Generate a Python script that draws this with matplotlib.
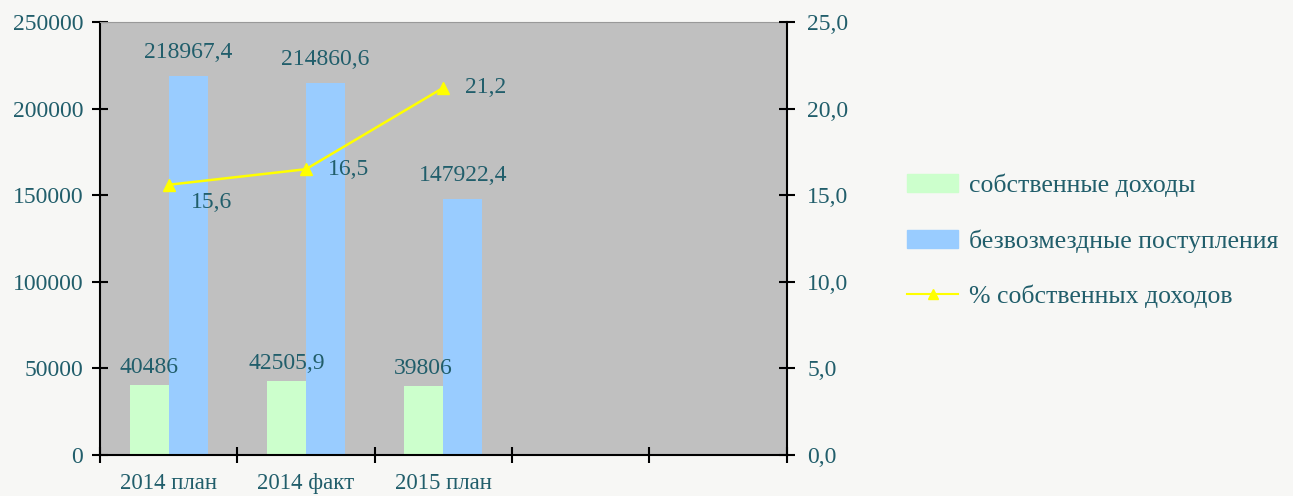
import numpy as np
import matplotlib.pyplot as plt
from matplotlib.lines import Line2D
from matplotlib.patches import Patch

# данные
categories = ['2014 план', '2014 факт', '2015 план', '', '']
own_income = [40486, 42505.9, 39806]
grants = [218967.4, 214860.6, 147922.4]
own_share = [15.6, 16.5, 21.2]

own_labels = ['40486', '42505,9', '39806']
grant_labels = ['218967,4', '214860,6', '147922,4']
share_labels = ['15,6', '16,5', '21,2']

txt = '#215E6B'
plt.rcParams['font.family'] = ['Liberation Serif', 'DejaVu Serif']

fig = plt.figure(figsize=(12.93, 4.96), dpi=100)
fig.patch.set_facecolor('#F7F7F5')
ax = fig.add_axes([0.0773, 0.0827, 0.531, 0.873])
ax.set_facecolor('#C0C0C0')

x = np.arange(len(own_income))
w = 0.284
ax.bar(x - w / 2, own_income, width=w, color='#CCFFCC', zorder=2)
ax.bar(x + w / 2, grants, width=w, color='#99CCFF', zorder=2)

for i in range(len(x)):
    ax.text(x[i] - w / 2, own_income[i] + 4000, own_labels[i], ha='center', va='bottom',
            fontsize=17, color=txt, zorder=5)
    ax.text(x[i] + w / 2, grants[i] + 7500, grant_labels[i], ha='center', va='bottom',
            fontsize=17, color=txt, zorder=5)

ax.set_xlim(-0.5, 4.5)
ax.set_ylim(0, 250000)
ax.set_yticks(np.arange(0, 250001, 50000))
ax.set_xticks(np.arange(-0.5, 4.6, 1))
ax.set_xticklabels([])
ax.set_xticks(np.arange(5), minor=True)
ax.set_xticklabels(categories, minor=True)
ax.tick_params(axis='x', which='minor', length=0, labelsize=16.5, colors=txt, pad=13)
ax.tick_params(axis='x', which='major', direction='inout', length=12, width=1.5)
ax.tick_params(axis='y', direction='inout', length=12, width=1.5, labelsize=17,
               labelcolor=txt, pad=6)

for s in ['left', 'bottom']:
    ax.spines[s].set_color('black')
    ax.spines[s].set_linewidth(1.5)
ax.spines['top'].set_color('#999999')
ax.spines['right'].set_visible(False)

ax2 = ax.twinx()
ax2.plot(x, own_share, color='#FFFF00', marker='^', markersize=8, linewidth=1.8, zorder=4)
label_dy = [-1.0, 0, 0]
for i in range(len(x)):
    ax2.text(x[i] + 0.16, own_share[i] + label_dy[i], share_labels[i], ha='left', va='center',
             fontsize=17, color=txt)
ax2.set_ylim(0, 25)
ax2.set_yticks(np.arange(0, 26, 5))
ax2.set_yticklabels([f'{v:.1f}'.replace('.', ',') for v in np.arange(0, 26, 5)])
ax2.tick_params(axis='y', direction='inout', length=12, width=1.5, labelsize=17,
                labelcolor=txt, pad=9)
ax2.spines['right'].set_color('black')
ax2.spines['right'].set_linewidth(1.5)
for s in ['left', 'top', 'bottom']:
    ax2.spines[s].set_visible(False)

handles = [Patch(color='#CCFFCC'), Patch(color='#99CCFF'),
           Line2D([], [], color='#FFFF00', marker='^', markersize=7, linewidth=1.5)]
names = ['собственные доходы', 'безвозмездные поступления', '% собственных доходов']
fig.legend(handles, names, loc='center left', bbox_to_anchor=(0.7015, 0.514), frameon=False,
           fontsize=18.5, labelcolor=txt, handlelength=2.0, handleheight=0.7,
           labelspacing=1.25, handletextpad=0.4, borderaxespad=0, borderpad=0)

fig.savefig('out.png', dpi=100, facecolor=fig.get_facecolor())
